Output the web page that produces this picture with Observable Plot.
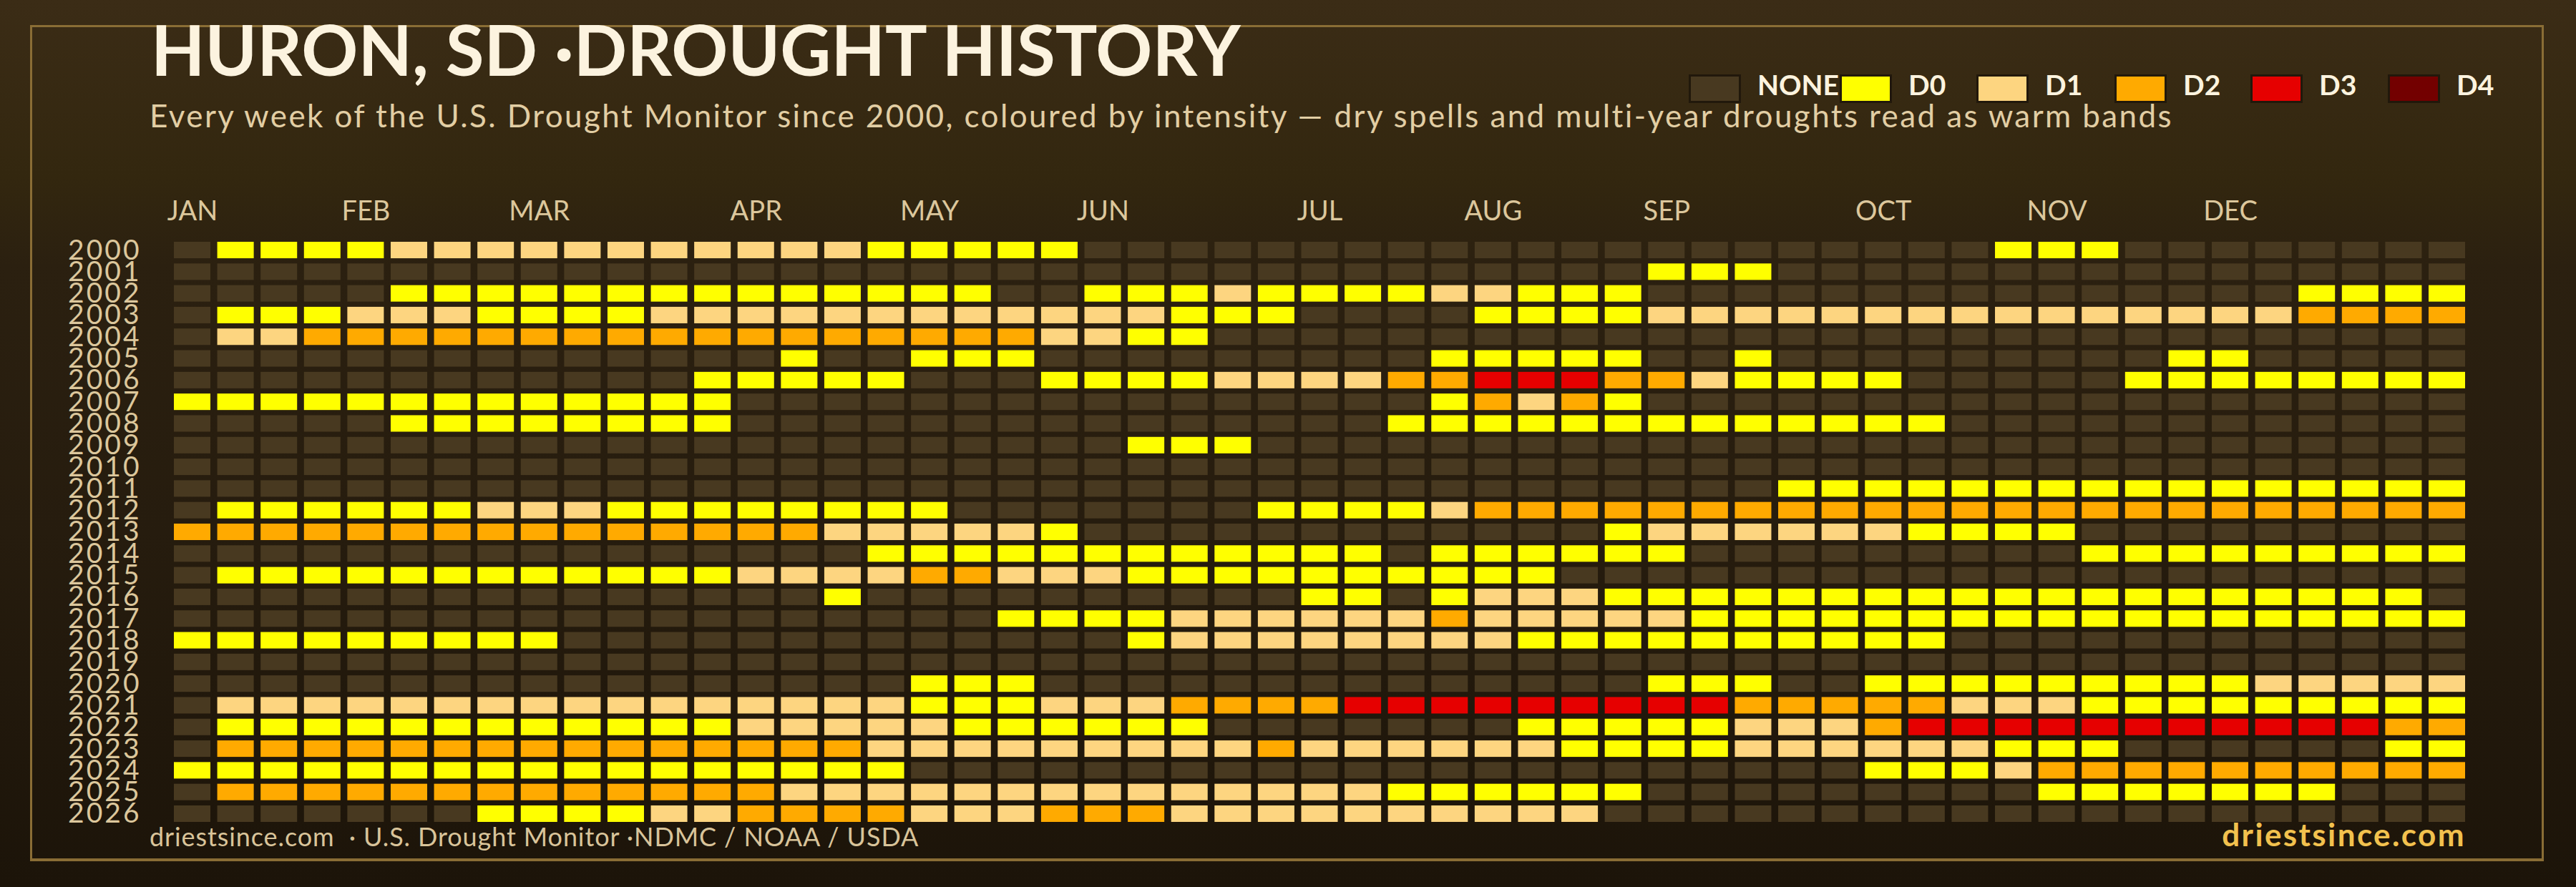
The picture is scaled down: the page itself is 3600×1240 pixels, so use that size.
<!DOCTYPE html>
<html>
<head>
<meta charset="utf-8">
<script src="https://cdn.jsdelivr.net/npm/d3@7"></script>
<script src="https://cdn.jsdelivr.net/npm/@observablehq/plot@0.6"></script>
<style>
  html, body { margin: 0; padding: 0; }
  body {
    width: 3600px; height: 1240px; overflow: hidden;
    background: linear-gradient(180deg, #3b2c16 0%, #33270f 20%, #2b2010 30%, #261c0e 60%, #1c1409 100%);
    font-family: Lato, "Noto Sans", sans-serif;
  }
  #wrap { position: relative; width: 3600px; height: 1240px; }
  #frame { position: absolute; left: 42px; top: 35px; width: 3507px; height: 1162px;
           border: 3px solid #8a6d35; border-bottom-width: 4px; }
  .t { position: absolute; white-space: nowrap; line-height: 1; }
  #title { left: 211px; top: 19px; font-size: 98px; font-weight: 700; color: #fcf3df; }
  #subtitle { left: 209px; top: 139px; font-size: 44px; letter-spacing: 2.4px; color: #e2cea4; }
  .sw { position: absolute; top: 104px; width: 67px; height: 34px; border: 3px solid #21180b; }
  .lt { position: absolute; top: 99px; font-size: 39px; font-weight: 700; color: #fcf3df; line-height: 1; white-space: nowrap; }
  #srcL { left: 209px; top: 1151px; font-size: 36px; letter-spacing: 0.9px; color: #d9c49a; }
  #srcR { right: 154px; top: 1144px; font-size: 44px; font-weight: 700; color: #f2c14e; letter-spacing: 2.4px; }
  #chart { position: absolute; left: 0; top: 0; }
</style>
</head>
<body>
<div id="wrap">
  <div id="frame"></div>
  <div id="chart"></div>
  <div class="t" id="title">HURON, SD ·DROUGHT HISTORY</div>
  <div class="t" id="subtitle">Every week of the U.S. Drought Monitor since 2000, coloured by intensity — dry spells and multi-year droughts read as warm bands</div>
  <div id="legend"></div>
  <div class="t" id="srcL">driestsince.com &nbsp;· U.S. Drought Monitor ·NDMC / NOAA / USDA</div>
  <div class="t" id="srcR">driestsince.com</div>
</div>
<script>
// ---- data ----
const years = [2000,2001,2002,2003,2004,2005,2006,2007,2008,2009,2010,2011,2012,2013,
               2014,2015,2016,2017,2018,2019,2020,2021,2022,2023,2024,2025,2026];

// one string per year, 53 weekly codes: "." = none, "0".."4" = D0..D4
const weekCodes = [
  ".00001111111111100" + "000..............." + "......000........", // 2000
  ".................." + "................00" + "0................", // 2001
  ".....0000000000000" + "0..0001000011000.." + ".............0000", // 2002
  ".00011100001111111" + "11111000....000011" + "11111111111112222", // 2003
  ".11222222222222222" + "221100............" + ".................", // 2004
  "..............0..0" + "00.........00000.." + "0.........00.....", // 2005
  "............00000." + "..0000111122333221" + "0000.....00000000", // 2006
  "0000000000000....." + "...........02120.." + ".................", // 2007
  ".....00000000....." + "..........00000000" + "00000............", // 2008
  ".................." + "....000..........." + ".................", // 2009
  ".................." + ".................." + ".................", // 2010
  ".................." + ".................." + ".0000000000000000", // 2011
  ".00000011100000000" + ".......00001222222" + "22222222222222222", // 2012
  "222222222222222111" + "110............011" + "11110000.........", // 2013
  "................00" + "0000000000.000000." + "........000000000", // 2014
  ".00000000000011112" + "21110000000000...." + ".................", // 2015
  "...............0.." + "........00.0111000" + "0000000000000000.", // 2016
  ".................." + ".00001111112111110" + "00000000000000000", // 2017
  "000000000........." + "....01111111100000" + "00000............", // 2018
  ".................." + ".................." + ".................", // 2019
  ".................0" + "00..............00" + "0..00000000011111", // 2020
  ".11111111111111110" + "001112222333333333" + "22222111000000000", // 2021
  ".00000000000011111" + "000000.......00000" + "11123333333333322", // 2022
  ".22222222222222211" + "111111121111110000" + "111111000......00", // 2023
  "00000000000000000." + ".................." + "...00012222222222", // 2024
  ".22222222222221111" + "1111111111000000.." + ".......0000000...", // 2025
  ".......00001122221" + "112221111111111..." + "................."  // 2026
];

const levelKeys   = ["NONE", "D0", "D1", "D2", "D3", "D4"];
const levelColors = ["#483920", "#ffff00", "#fdd580", "#ffaa00", "#e60000", "#730000"];

const monthLabels = ["JAN","FEB","MAR","APR","MAY","JUN","JUL","AUG","SEP","OCT","NOV","DEC"];
const monthWeeks  = [0, 4, 8, 13, 17, 21, 26, 30, 34, 39, 43, 47];

// ---- build table ----
const cells = [];
years.forEach((yr, i) => {
  Array.from(weekCodes[i]).forEach((c, w) => {
    cells.push({year: yr, week: w, level: c === "." ? "NONE" : "D" + c});
  });
});
const weeks = d3.range(53);
const monthAt = new Map(monthWeeks.map((w, i) => [w, monthLabels[i]]));

const chart = Plot.plot({
  width: 3600,
  height: 1240,
  marginTop: 338,
  marginBottom: 91,
  marginLeft: 243,
  marginRight: 155,
  style: {background: "transparent", color: "#dcc79c", fontFamily: "Lato, sans-serif", fontSize: "38px"},
  x: {type: "band", domain: weeks, paddingInner: 0.158, paddingOuter: 0, round: false,
      axis: "top", tickSize: 0, tickPadding: 31, tickFormat: w => monthAt.get(w) ?? "", label: null},
  y: {type: "band", domain: years, paddingInner: 0.24, paddingOuter: 0, round: false,
      axis: "left", tickSize: 0, tickPadding: 46, tickFormat: d => String(d), label: null},
  color: {type: "ordinal", domain: levelKeys, range: levelColors},
  marks: [
    Plot.cell(cells, {x: "week", y: "year", fill: "level"})
  ]
});
// year labels: slightly wider lettering, as in the reference
d3.select(chart).selectAll("text")
  .filter(function() { return /^\d{4}$/.test(this.textContent); })
  .attr("font-size", 39)
  .attr("letter-spacing", 3);
document.getElementById("chart").appendChild(chart);

// ---- legend ----
const legend = document.getElementById("legend");
const swatchX = [2360, 2571, 2762, 2955, 3145, 3337];
levelKeys.forEach((k, i) => {
  const s = document.createElement("div");
  s.className = "sw";
  s.style.left = swatchX[i] + "px";
  s.style.background = levelColors[i];
  legend.appendChild(s);
  const t = document.createElement("div");
  t.className = "lt";
  t.style.left = (swatchX[i] + 96) + "px";
  t.textContent = k;
  legend.appendChild(t);
});
</script>
</body>
</html>
